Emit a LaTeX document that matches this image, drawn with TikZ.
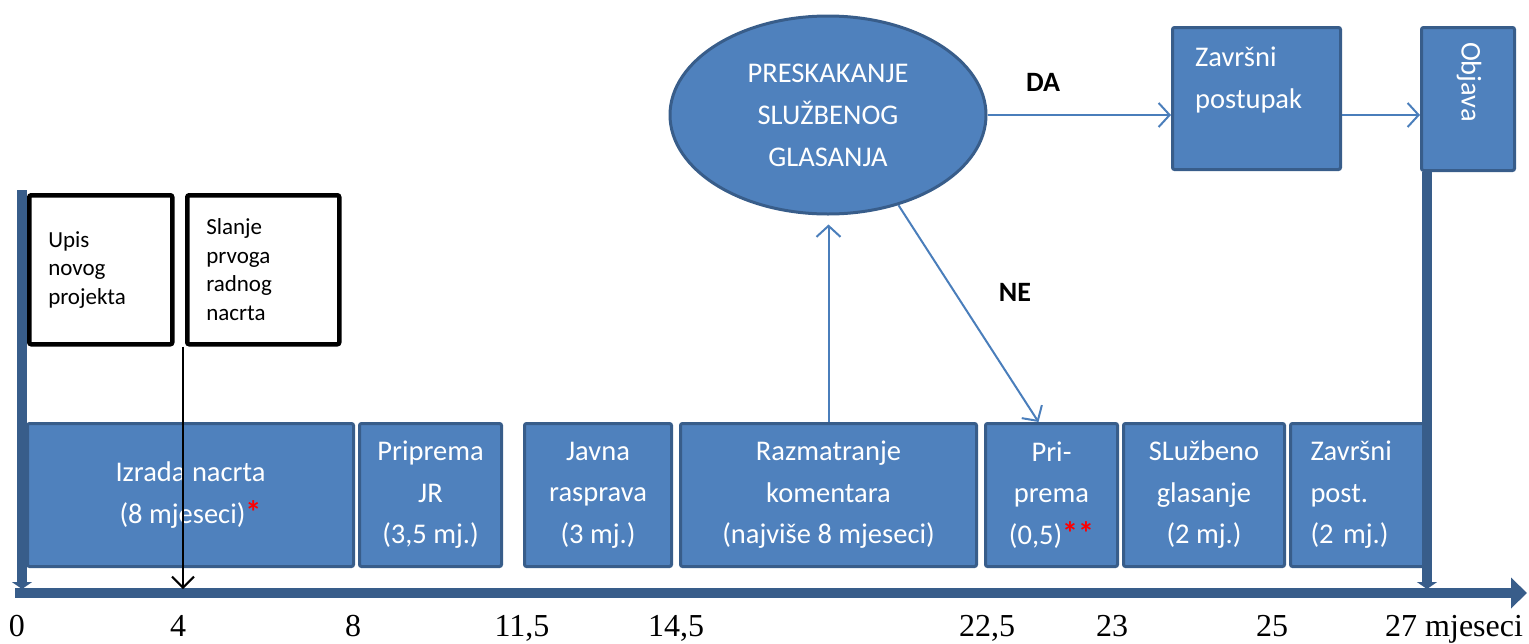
\documentclass[tikz,border=0pt]{standalone}
\usepackage{fontspec}
\setmainfont{Carlito}
\newfontfamily\tnr{Liberation Serif}
\usetikzlibrary{arrows.meta,shapes.geometric,calc}
\definecolor{fillb}{HTML}{4F81BD}
\definecolor{edgeb}{HTML}{385D8A}
\definecolor{lineb}{HTML}{4A7EBB}
\newcommand{\rast}[1]{\textcolor{red}{\bfseries\fontsize{32}{40}\selectfont #1}}
\begin{document}
\begin{tikzpicture}[x=1pt,y=-1pt,
  pbox/.style={draw=edgeb, fill=fillb, line width=3pt, rounded corners=2pt, text=white,
    font=\fontsize{28.5}{41.5}\selectfont, align=center, inner sep=0pt, anchor=north west},
  wbox/.style={draw=black, fill=white, line width=4.5pt, rounded corners=2pt,
    font=\fontsize{23}{28.5}\selectfont, align=left, inner xsep=19pt, inner ysep=0pt, anchor=north west},
  btxt/.style={text=white, font=\fontsize{28.5}{42}\selectfont, align=left, inner sep=0pt},
  conn/.style={draw=lineb, line width=2pt, -{Straight Barb[length=11pt,width=24pt,line width=2pt]}},
  blk/.style={draw=black, line width=2pt, -{Straight Barb[length=11pt,width=22pt,line width=2pt]}},
  bar/.style={draw=edgeb, line width=10pt},
  lab/.style={font=\fontsize{28}{32}\selectfont\bfseries},
  axl/.style={font=\tnr\fontsize{32}{36}\selectfont, anchor=base, inner sep=0pt}
]
\useasboundingbox (0,0) rectangle (1529,643);

% top boxes
\node[wbox, text width=105pt, minimum height=149pt] (upis) at (27,193) {Upis\\novog\\projekta};
\node[wbox, text width=114pt, minimum height=149pt] (slanje) at (185,193) {Slanje\\prvoga\\radnog\\nacrta};

% ellipse
\node[draw=edgeb, fill=fillb, line width=3pt, ellipse, minimum width=316pt, minimum height=198pt,
  text=white, font=\fontsize{28.5}{42}\selectfont, align=center, inner sep=0pt] (ell) at (828,115)
  {PRESKAKANJE\\SLUŽBENOG\\GLASANJA};

\node[pbox, minimum width=168pt, minimum height=142pt] (zp) at (1171,26) {};
\node[btxt, anchor=north west] (zpt) at (1195,47) {Završni\\postupak};
\node[pbox, minimum width=93pt, minimum height=143pt] (ob) at (1420,26) {};
\node[text=white, font=\fontsize{28.5}{32}\selectfont, rotate=-90, inner sep=0pt] (obt) at (1469,82) {Objava};

% bottom boxes
\node[pbox, minimum width=326pt, minimum height=143pt] (izr) at (26,422) {Izrada nacrta\\(8 mjeseci)\rast{*}};
\node[pbox, minimum width=142pt, minimum height=143pt] (pjr) at (358,422) {Priprema\\JR\\(3,5 mj.)};
\node[pbox, minimum width=147pt, minimum height=143pt] (jav) at (523,422) {Javna\\rasprava\\(3 mj.)};
\node[pbox, minimum width=296pt, minimum height=143pt] (raz) at (679,422) {Razmatranje\\komentara\\(najviše 8 mjeseci)};
\node[pbox, minimum width=132pt, minimum height=143pt] (pri) at (984,422) {Pri-\\prema\\(0,5)\rast{**}};
\node[pbox, minimum width=161pt, minimum height=143pt] (slu) at (1122,422) {SLužbeno\\glasanje\\(2 mj.)};
\node[pbox, align=left, inner xsep=20pt, text width=94pt, minimum height=143pt] (zav) at (1289,422) {Završni\\post.\\(2 mj.)};

% bars and axis
\coordinate (a0) at (15,593);
\coordinate (aend) at (1527,593);
\coordinate (lbtop) at (22,190);
\coordinate (lbbot) at (22,589);
\coordinate (rbbot) at (1427,589);
\coordinate (a4) at (183,589);
\draw[bar, -{Triangle[length=16pt,width=30pt]}] (a0) -- (aend);
\draw[bar, -{Triangle[length=7pt,width=20pt]}] (lbtop) -- (lbbot);
\draw[bar, -{Triangle[length=7pt,width=20pt]}] ([xshift=7pt]ob.south west) -- (rbbot);

% connectors
\draw[conn] (ell.east) -- (ell.east -| zp.west);
\draw[conn] (zp.east |- ell.east) -- (ob.west |- ell.east);
\draw[conn] (raz.north) -- ([yshift=-9pt]raz.north |- ell.south);
\draw[conn] (ell.-52) -- ([xshift=-13pt]pri.north);
\draw[blk] ([xshift=-2pt]slanje.south west) -- (a4);

\node[lab] (da) at (1043,82) {DA};
\node[lab] (ne) at (1015,292) {NE};

% axis labels
\node[axl] (l0) at (17,636) {0};
\node[axl] (l4) at (178,636) {4};
\node[axl] (l8) at (353,636) {8};
\node[axl] (l115) at (522,636) {11,5};
\node[axl] (l145) at (676,636) {14,5};
\node[axl] (l225) at (987,636) {22,5};
\node[axl] (l23) at (1112,636) {23};
\node[axl] (l25) at (1272,636) {25};
\node[axl, anchor=base west] (l27) at (1385,636) {27 mjeseci};
\end{tikzpicture}
\end{document}
